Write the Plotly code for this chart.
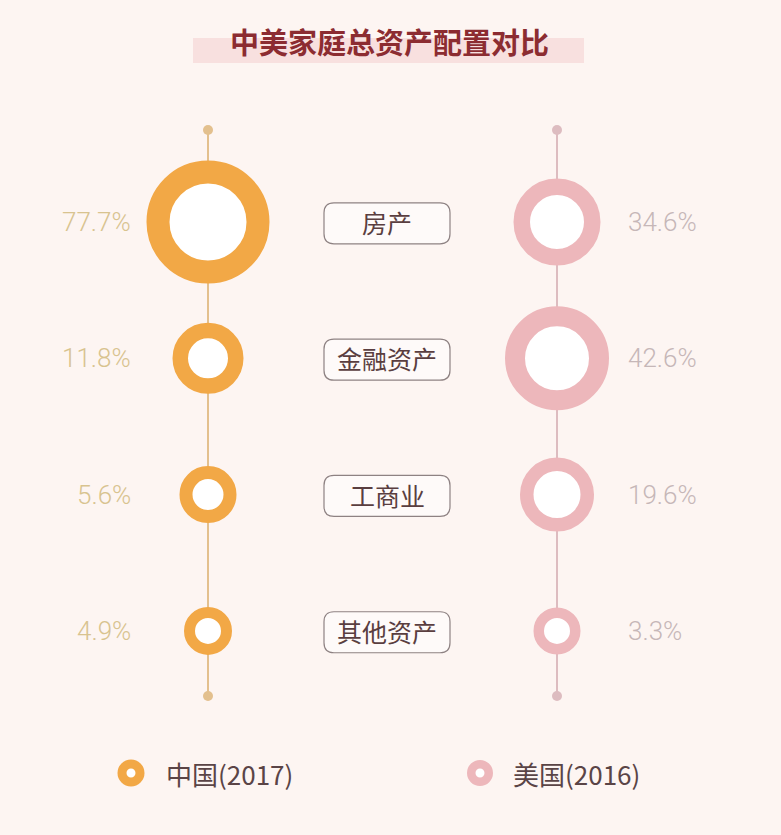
import plotly.graph_objects as go

# ---------------- data ----------------
categories = ["房产", "金融资产", "工商业", "其他资产"]
china_values = [77.7, 11.8, 5.6, 4.9]
us_values = [34.6, 42.6, 19.6, 3.3]
series_names = ["中国(2017)", "美国(2016)"]
title_text = "中美家庭总资产配置对比"

# ---------------- style ----------------
W, H = 781, 835
BG = "#FDF5F2"
ORANGE = "#F2A846"
PINK = "#EDB7BB"
ORANGE_LINE = "#E3C08E"
PINK_LINE = "#DDBCC0"
CJK = "Noto Sans CJK SC"

# ring marker styling (diameter of path, stroke width) per row
china_ring_size = [100, 55.5, 44, 37]
china_ring_width = [23, 15.5, 13, 11]
us_ring_size = [70.5, 84, 60.5, 36.5]
us_ring_width = [16.5, 20, 13.5, 10.5]

# layout geometry: x=0 China column, x=1 US column; y = row index
X0_PX, X1_PX = 208, 557
Y0_PX, DY_PX = 222, 136.3
def px_x(p):
    return (p - X0_PX) / (X1_PX - X0_PX)
def px_y(p):
    return (p - Y0_PX) / DY_PX

rows = list(range(len(categories)))
y_top, y_bot = px_y(130), px_y(696)
LABEL_X = px_x(387)

fig = go.Figure()

# vertical stems with end dots
for xc, lc in [(0, ORANGE_LINE), (1, PINK_LINE)]:
    fig.add_trace(go.Scatter(
        x=[xc, xc], y=[y_top, y_bot], mode="lines+markers",
        line=dict(color=lc, width=2),
        marker=dict(size=10, color=lc, opacity=1),
        hoverinfo="skip", showlegend=False))

# rings
fig.add_trace(go.Scatter(
    x=[0] * len(categories), y=rows, mode="markers",
    marker=dict(size=china_ring_size, color="#FFFFFF", opacity=1,
                line=dict(color=ORANGE, width=china_ring_width)),
    name=series_names[0], showlegend=False,
    customdata=china_values, hovertemplate="%{customdata}%<extra></extra>"))
fig.add_trace(go.Scatter(
    x=[1] * len(categories), y=rows, mode="markers",
    marker=dict(size=us_ring_size, color="#FFFFFF", opacity=1,
                line=dict(color=PINK, width=us_ring_width)),
    name=series_names[1], showlegend=False,
    customdata=us_values, hovertemplate="%{customdata}%<extra></extra>"))

# percentage labels
for i, v in enumerate(china_values):
    fig.add_annotation(x=px_x(133), y=i, text=f"{v}%", showarrow=False,
                       xanchor="right", yanchor="middle",
                       font=dict(family="Roboto", size=26, color="#D8C38F", weight=300))
for i, v in enumerate(us_values):
    fig.add_annotation(x=px_x(626), y=i, text=f"{v}%", showarrow=False,
                       xanchor="left", yanchor="middle",
                       font=dict(family="Roboto", size=26, color="#C6B7B8", weight=300))

# category boxes (rounded rectangles) and labels
hw, hh, r = 63, 20.5, 10
path = (f"M {-hw + r},{-hh} L {hw - r},{-hh} Q {hw},{-hh} {hw},{-hh + r} "
        f"L {hw},{hh - r} Q {hw},{hh} {hw - r},{hh} L {-hw + r},{hh} "
        f"Q {-hw},{hh} {-hw},{hh - r} L {-hw},{-hh + r} Q {-hw},{-hh} {-hw + r},{-hh} Z")
for i, c in enumerate(categories):
    fig.add_shape(type="path", xsizemode="pixel", ysizemode="pixel",
                  xanchor=LABEL_X, yanchor=i + 0.01, xref="x", yref="y",
                  path=path, line=dict(color="#8E8283", width=1.2),
                  fillcolor="#FEFAF9", layer="below")
    fig.add_annotation(x=LABEL_X, y=i, text=c, showarrow=False,
                       xanchor="center", yanchor="middle",
                       font=dict(family=CJK, size=25, color="#5A3E40"))

# title band and title
fig.add_shape(type="rect", xref="paper", yref="paper",
              x0=193 / W, x1=584 / W, y0=1 - 63 / H, y1=1 - 38 / H,
              fillcolor="#F8E0DF", line=dict(width=0), layer="below")
fig.add_annotation(xref="paper", yref="paper", x=389 / W, y=1 - 41 / H,
                   text=f"<b>{title_text}</b>", showarrow=False,
                   xanchor="center", yanchor="middle",
                   font=dict(family=CJK, size=29, color="#8C2C31"))

# legend
leg_y = px_y(773)
fig.add_trace(go.Scatter(
    x=[px_x(131), px_x(480)], y=[leg_y, leg_y], mode="markers",
    marker=dict(size=[18, 17.5], color="#FFFFFF", opacity=1,
                line=dict(color=[ORANGE, PINK], width=[9, 8.5])),
    hoverinfo="skip", showlegend=False))
for name, xp in zip(series_names, [164, 511]):
    fig.add_annotation(x=px_x(xp), y=leg_y, text=name, showarrow=False,
                       xanchor="left", yanchor="middle",
                       font=dict(family=CJK, size=26, color="#5A4446"))

fig.update_layout(
    width=W, height=H,
    margin=dict(l=0, r=0, t=0, b=0),
    paper_bgcolor=BG, plot_bgcolor=BG,
    xaxis=dict(range=[px_x(0), px_x(W)], visible=False, fixedrange=True),
    yaxis=dict(range=[px_y(H), px_y(0)], visible=False, fixedrange=True),
    showlegend=False,
)

fig.write_html(
    "out.html",
    config={"displayModeBar": False},
    post_script=("document.body.style.margin='0';"
                 "document.body.style.overflow='hidden';"
                 f"document.body.style.background='{BG}';"),
)
